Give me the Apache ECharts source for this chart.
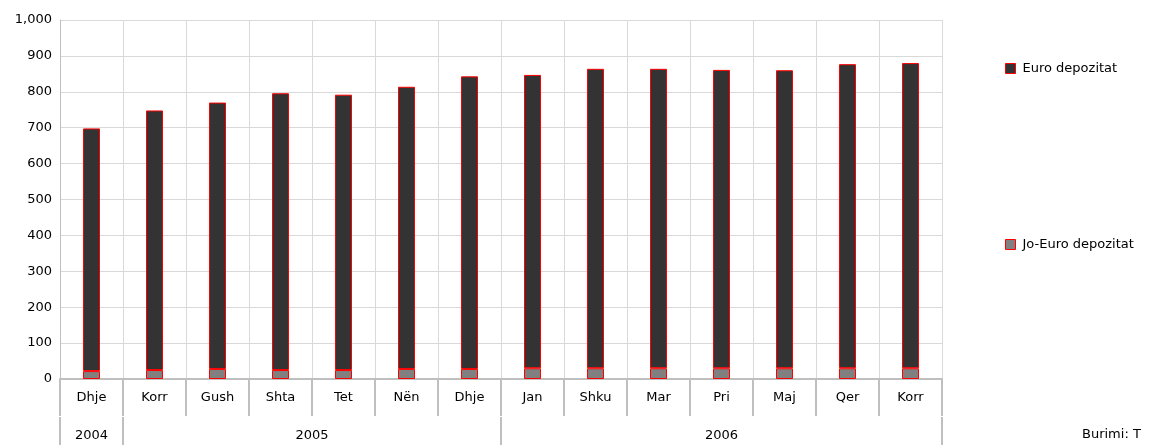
<!DOCTYPE html><html><head><meta charset="utf-8"><script src="https://cdn.jsdelivr.net/npm/echarts@6/dist/echarts.min.js"></script></head><body style="margin:0"><div id="c" style="width:1150px;height:445px"></div><script>
const months=['Dhje','Korr','Gush','Shta','Tet','Nën','Dhje','Jan','Shku','Mar','Pri','Maj','Qer','Korr'];
const years=['2004','2005','2006'];
const yearCenters=[0.5,4,10.5];
const yearBounds=[0,1,7,14];
const joEuro=[22,25,28,25,25,28,28,30,30,30,30,30,30,30];
const euro=[676,723,742,771,767,786,815,817,834,834,831,830,847,850];
const F='DejaVu Sans';
const ch=echarts.init(document.getElementById('c'));
const lg={icon:'rect',left:1000,itemWidth:10,itemHeight:10,itemStyle:{borderWidth:1,borderColor:'#ff0000'},textStyle:{fontFamily:F,fontSize:13,color:'#000',padding:[0,0,0,2]}};
ch.setOption({
 animation:false,
 grid:{left:60,right:208,top:20,bottom:66},
 legend:[
  Object.assign({data:['Euro depozitat'],top:57},lg),
  Object.assign({data:['Jo-Euro depozitat'],top:233},lg)
 ],
 xAxis:[
  {type:'category',data:months,boundaryGap:true,axisLine:{lineStyle:{color:'#bfbfbf',width:2}},axisTick:{show:true,interval:0,length:37,lineStyle:{color:'#bfbfbf',width:2}},axisLabel:{interval:0,color:'#000',fontFamily:F,fontSize:13,margin:12},splitLine:{show:true,interval:0,lineStyle:{color:'#d9d9d9'}}},
  {type:'value',position:'bottom',offset:38,min:0,max:14,axisLine:{show:false},splitLine:{show:false},
   axisTick:{show:true,length:28,customValues:yearBounds,lineStyle:{color:'#bfbfbf',width:2}},
   axisLabel:{customValues:yearCenters,formatter:v=>years[yearCenters.indexOf(v)],color:'#000',fontFamily:F,fontSize:13,margin:12}}
 ],
 yAxis:{type:'value',min:0,max:1000,interval:100,axisLine:{show:true,lineStyle:{color:'#bfbfbf'}},axisTick:{show:false},splitLine:{lineStyle:{color:'#d9d9d9'}},axisLabel:{color:'#000',fontFamily:F,fontSize:13,formatter:v=>v.toLocaleString('en-US')}},
 series:[
  {name:'Jo-Euro depozitat',type:'bar',stack:'a',data:joEuro,barWidth:17,itemStyle:{color:'#808080',borderColor:'#ff0000',borderWidth:1}},
  {name:'Euro depozitat',type:'bar',stack:'a',data:euro,barWidth:17,itemStyle:{color:'#333333',borderColor:'#ff0000',borderWidth:1}}
 ],
 graphic:[{type:'text',left:1082,top:428,style:{text:'Burimi: T',font:'13px "DejaVu Sans"',fill:'#000'}}]
});
</script></body></html>
